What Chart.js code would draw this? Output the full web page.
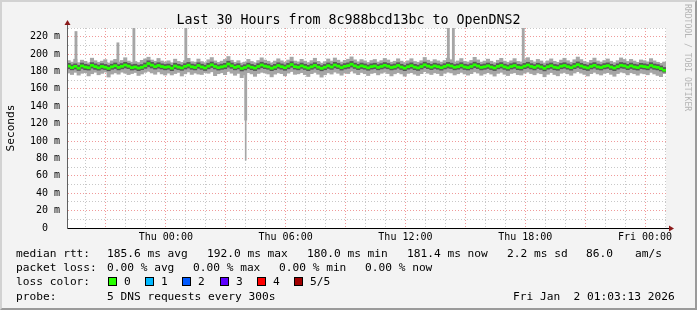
<!DOCTYPE html>
<html><head><meta charset="utf-8">
<script src="https://cdn.jsdelivr.net/npm/chart.js@4/dist/chart.umd.min.js"></script>
<style>
html,body{margin:0;padding:0;background:#f3f3f3;}
#wrap{position:relative;width:697px;height:310px;overflow:hidden;font-family:'DejaVu Sans Mono',monospace;color:#000;}
#frame{position:absolute;left:0;top:0;width:697px;height:310px;box-sizing:border-box;border:2px solid;border-color:#d2d2d2 #9a9a9a #9a9a9a #d2d2d2;pointer-events:none;}
canvas{position:absolute;left:0;top:0;}
.t{position:absolute;white-space:pre;font-size:11.2px;line-height:14px;}
#title{position:absolute;left:0;width:697px;top:11px;text-align:center;font-size:13.3px;line-height:17px;white-space:pre;}
#rrd{position:absolute;left:683px;top:4px;writing-mode:vertical-rl;font-size:8.1px;color:#b4b4b4;white-space:pre;line-height:10px;}
.box{position:absolute;width:7px;height:7px;border:1px solid #000;top:277px;}
</style></head><body>
<div id="wrap">
<canvas id="c" width="697" height="310"></canvas>
<div id="title">Last 30 Hours from 8c988bcd13bc to OpenDNS2</div>
<div id="rrd">RRDTOOL / TOBI OETIKER</div>
<div class="t" style="left:16px;top:247px">median rtt:</div>
<div class="t" style="left:107px;top:247px">185.6 ms avg</div>
<div class="t" style="left:207px;top:247px">192.0 ms max</div>
<div class="t" style="left:307px;top:247px">180.0 ms min</div>
<div class="t" style="left:407px;top:247px">181.4 ms now</div>
<div class="t" style="left:507px;top:247px">2.2 ms sd</div>
<div class="t" style="left:586px;top:247px">86.0</div>
<div class="t" style="left:635px;top:247px">am/s</div>
<div class="t" style="left:16px;top:261px">packet loss:</div>
<div class="t" style="left:107px;top:261px">0.00 % avg</div>
<div class="t" style="left:193px;top:261px">0.00 % max</div>
<div class="t" style="left:279px;top:261px">0.00 % min</div>
<div class="t" style="left:365px;top:261px">0.00 % now</div>
<div class="t" style="left:16px;top:275px">loss color:</div>
<div id="lossLegend"></div>
<div class="t" style="left:16px;top:290px">probe:</div>
<div class="t" style="left:107px;top:290px">5 DNS requests every 300s</div>
<div class="t" style="left:513px;top:290px">Fri Jan  2 01:03:13 2026</div>
<div id="frame"></div>
</div>
<script>
// ---- data ----
const startHour = -4.95;          // hours relative to Thu 00:00
const endHour = 25.05;
const binHours = 1/6;             // 10-minute bins
const tickHours = [0, 6, 12, 18, 24];
const tickLabels = ['Thu 00:00', 'Thu 06:00', 'Thu 12:00', 'Thu 18:00', 'Fri 00:00'];
const yMax = 230;

const median = [
186.2,184.5,185.9,183.8,186.4,185.1,184.3,187.0,185.6,184.2,
185.8,184.9,183.6,185.3,186.6,184.7,185.9,187.4,186.1,184.5,
185.2,183.9,184.8,186.5,189.1,187.3,185.6,186.9,185.7,184.8,
185.4,183.8,186.3,185.0,184.1,185.9,187.2,185.4,184.6,186.8,
185.2,184.0,186.1,187.7,185.8,184.4,185.3,186.2,188.6,186.5,
184.7,185.8,183.5,184.6,186.4,184.9,183.9,185.8,187.5,186.1,
185.3,183.7,185.0,186.8,185.5,184.3,186.1,188.0,185.6,184.8,
186.5,185.1,183.9,185.4,186.9,185.0,183.6,184.9,186.6,185.2,
187.4,186.1,184.5,185.9,186.7,188.3,186.4,185.0,186.5,185.5,
184.2,185.6,186.3,184.7,185.8,187.1,186.0,184.6,185.4,186.9,
185.1,183.8,185.5,186.7,185.0,184.1,185.7,187.6,186.1,185.0,
186.4,185.5,184.4,185.8,187.2,186.3,184.8,185.5,186.9,185.2,
184.5,185.8,187.6,186.2,184.7,185.4,186.5,185.1,184.0,185.9,
187.0,185.3,184.2,185.7,186.8,185.0,184.5,186.1,187.4,185.8,
184.7,186.3,185.2,183.6,185.5,186.6,184.9,184.3,186.0,186.9,
185.5,184.4,186.1,187.8,186.3,185.0,184.1,185.8,187.0,185.3,
184.6,185.9,186.7,185.1,183.9,185.6,187.1,186.4,185.0,186.5,
185.2,184.5,186.2,185.6,184.8,186.9,185.4,184.7,183.2,181.4];

const innerLow = [
183.1,181.9,182.8,181.2,183.5,182.0,181.6,183.9,182.4,181.5,
182.9,182.2,180.8,182.5,183.4,181.8,183.0,184.1,183.2,181.7,
182.3,181.0,182.1,183.6,185.4,184.0,182.7,183.8,182.9,181.9,
182.6,180.9,183.1,182.2,181.3,182.8,184.0,182.5,181.8,183.7,
182.4,181.2,183.0,184.5,182.9,181.6,182.4,183.1,185.0,183.6,
181.9,182.9,180.6,181.8,183.4,182.1,181.1,182.8,184.3,183.2,
182.5,180.9,182.1,183.7,182.6,181.4,183.0,184.8,182.7,181.9,
183.6,182.3,181.0,182.5,183.8,182.2,180.8,182.0,183.5,182.4,
184.2,183.2,181.6,182.9,183.6,185.1,183.5,182.1,183.4,182.6,
181.4,182.7,183.3,181.9,182.9,183.9,183.1,181.8,182.5,183.8,
182.3,180.9,182.6,183.6,182.1,181.2,182.8,184.4,183.2,182.1,
183.5,182.6,181.5,182.9,184.0,183.4,181.9,182.6,183.8,182.3,
181.7,182.9,184.4,183.3,181.8,182.5,183.4,182.2,181.1,183.0,
183.9,182.4,181.3,182.8,183.7,182.1,181.6,183.2,184.2,182.9,
181.8,183.4,182.3,180.7,182.6,183.5,182.0,181.4,183.1,183.8,
182.6,181.5,183.2,184.6,183.4,182.1,181.2,182.9,183.9,182.4,
181.7,183.0,183.6,182.2,181.0,182.7,184.0,183.5,182.1,183.4,
182.3,181.6,183.3,182.7,181.9,183.8,182.5,181.8,180.6,179.2];

const innerHigh = [
189.4,187.6,188.8,186.9,189.7,188.3,187.5,190.2,188.8,187.4,
189.0,188.1,186.9,188.4,189.8,187.9,189.1,190.6,189.3,187.8,
188.4,187.2,188.0,189.8,192.3,190.5,188.9,190.1,188.8,188.0,
188.6,187.1,189.5,188.2,187.3,189.0,190.4,188.5,187.8,190.0,
188.4,187.2,189.3,190.9,189.0,187.6,188.5,189.4,191.8,189.7,
187.9,189.0,186.7,187.8,189.6,188.1,187.1,189.0,190.7,189.3,
188.5,186.9,188.2,190.0,188.7,187.5,189.3,191.2,188.8,188.0,
189.7,188.3,187.1,188.6,190.1,188.2,186.8,188.1,189.8,188.4,
190.6,189.3,187.7,189.1,189.9,191.5,189.6,188.2,189.7,188.7,
187.4,188.8,189.5,187.9,189.0,190.3,189.2,187.8,188.6,190.1,
188.3,187.0,188.7,189.9,188.2,187.3,188.9,190.8,189.3,188.2,
189.6,188.7,187.6,189.0,190.4,189.5,188.0,188.7,190.1,188.4,
187.7,189.0,190.8,189.4,187.9,188.6,189.7,188.3,187.2,189.1,
190.2,188.5,187.4,188.9,190.0,188.2,187.7,189.3,190.6,189.0,
187.9,189.5,188.4,186.8,188.7,189.8,188.1,187.5,189.2,190.1,
188.7,187.6,189.3,191.0,189.5,188.2,187.3,189.0,190.2,188.5,
187.8,189.1,189.9,188.3,187.1,188.8,190.3,189.6,188.2,189.7,
188.4,187.7,189.4,188.8,188.0,190.1,188.6,187.9,186.4,184.6];

const minRtt = [
178.2,176.5,179.0,175.8,177.9,178.6,174.9,177.4,179.1,176.2,
177.8,179.3,173.6,177.0,178.4,176.9,179.2,178.0,176.4,177.6,
178.8,175.4,177.1,179.0,180.2,178.3,176.8,179.5,177.2,175.9,
178.1,176.0,177.6,178.9,174.8,177.3,179.4,176.6,178.2,177.0,
176.5,178.7,177.9,179.6,175.2,177.4,178.5,176.3,180.1,178.0,
175.6,177.8,172.9,176.1,178.6,177.2,174.4,177.7,179.0,178.3,
177.1,173.8,176.9,178.4,177.5,175.0,178.1,179.9,176.7,177.3,
178.6,176.4,174.2,177.5,178.9,176.8,173.5,176.2,178.4,177.0,
179.3,177.9,175.7,178.2,177.6,180.4,178.1,176.3,178.8,177.4,
175.3,177.7,178.5,176.1,177.9,179.1,177.6,174.9,177.3,178.7,
177.2,174.6,177.8,178.6,176.9,175.4,177.5,179.7,178.0,176.5,
178.4,177.6,175.1,177.9,179.2,178.3,176.0,177.4,178.9,177.1,
175.8,177.5,179.5,178.1,175.6,177.2,178.6,177.0,174.7,177.8,
179.0,176.8,175.3,177.7,178.5,176.4,175.9,178.0,179.3,177.6,
176.2,178.3,177.4,173.9,176.8,178.7,176.5,175.0,177.9,178.8,
177.3,175.6,178.2,179.8,178.1,176.6,174.8,177.5,179.0,177.2,
175.9,177.8,178.6,176.7,174.5,177.6,179.2,178.4,176.1,178.5,
177.4,175.7,178.0,177.3,176.2,178.9,177.1,175.4,174.0,177.6];

const maxRtt = [
192.5,190.8,194.1,190.2,193.0,191.7,189.9,195.3,192.4,190.6,
191.9,193.6,189.8,192.2,194.0,190.9,192.7,195.8,192.0,190.7,
191.5,190.3,192.8,194.5,196.4,193.2,191.8,195.0,192.1,190.9,
192.3,190.1,194.2,191.6,190.4,192.5,195.1,191.3,190.8,194.3,
191.4,190.2,193.5,196.0,192.2,190.5,191.9,193.8,197.2,192.9,
190.6,192.4,189.7,190.8,193.9,191.5,190.0,192.6,195.7,193.1,
191.8,189.9,192.0,194.6,192.3,190.7,193.2,196.5,192.0,191.1,
194.0,191.9,190.2,192.5,195.2,191.7,189.6,191.3,194.4,192.0,
195.5,193.0,190.9,192.8,194.1,196.8,193.4,191.2,193.7,192.2,
190.4,192.6,193.8,190.9,192.5,195.0,193.2,190.7,191.8,194.6,
191.9,190.3,192.3,194.7,191.5,190.6,192.4,196.1,193.0,191.4,
193.6,192.2,190.8,192.6,195.3,193.5,191.0,192.1,194.9,191.6,
190.9,192.7,196.3,193.3,190.8,192.0,194.2,191.8,190.1,192.9,
195.1,191.9,190.6,192.3,194.8,191.6,191.0,193.6,195.9,192.7,
191.0,193.9,192.1,189.8,192.2,194.5,191.7,190.5,193.1,195.2,
192.4,190.7,193.5,196.6,193.7,191.5,190.3,192.8,195.4,192.1,
190.9,192.6,194.4,191.8,190.2,192.5,195.6,193.8,191.6,193.9,
192.0,190.5,193.3,192.4,191.1,194.8,192.2,190.6,189.4,190.9];

// isolated outliers (hours relative to Thu 00:00)
const spikeHours = [-4.5, -2.4, -1.6, 1.0, 4.0, 14.15, 14.4, 17.9];
const spikeLow   = [186, 186, 186, 186, 124, 186, 186, 186];
const spikeHigh  = [226, 213, 240, 240, 180, 240, 240, 232];
const dipHours = [4.0];
const dipLow   = [78];
const dipHigh  = [125];

const lossColors = ['#26ff00', '#00b8ff', '#0059ff', '#5e00ff', '#ff0000', '#a10000'];
const lossLabels = ['0', '1', '2', '3', '4', '5/5'];

// ---- loss legend ----
const boxX = [108, 145, 182, 220, 257, 294];
const ll = document.getElementById('lossLegend');
lossLabels.forEach((lab, i) => {
  const b = document.createElement('div');
  b.className = 'box'; b.style.left = boxX[i] + 'px'; b.style.background = lossColors[i];
  ll.appendChild(b);
  const t = document.createElement('div');
  t.className = 't'; t.style.left = (boxX[i] + 16) + 'px'; t.style.top = '275px';
  t.textContent = lab; ll.appendChild(t);
});

// ---- build datasets ----
const times = median.map((_, i) => startHour + (i + 0.5) * binHours);
const outerData = times.map((t, i) => ({x: t, y: [minRtt[i], maxRtt[i]]}));
const innerData = times.map((t, i) => ({x: t, y: [innerLow[i], innerHigh[i]]}));
const medData = times.map((t, i) => ({x: t, y: [median[i] - 1.2, median[i] + 1.2]}));
const spikeData = spikeHours.map((t, i) => ({x: t, y: [spikeLow[i], spikeHigh[i]]}));
const dipData = dipHours.map((t, i) => ({x: t, y: [dipLow[i], dipHigh[i]]}));

const RED = '#f09a9a', GRAY = '#c8c8c8';
const MONO = "'DejaVu Sans Mono', monospace";
const barW = 600 / median.length + 0.05;

const bgPlugin = {
  id: 'plotbg',
  beforeDraw(chart) {
    const {ctx, chartArea: a} = chart;
    ctx.save(); ctx.fillStyle = '#ffffff';
    ctx.fillRect(a.left, a.top, a.right - a.left, a.bottom - a.top);
    ctx.restore();
  }
};
const arrowPlugin = {
  id: 'arrows',
  afterDraw(chart) {
    const {ctx, chartArea: a} = chart;
    ctx.save();
    ctx.lineWidth = 1;
    ctx.strokeStyle = '#606060';
    ctx.beginPath(); ctx.moveTo(a.left + 0.5, a.top); ctx.lineTo(a.left + 0.5, a.top - 4); ctx.stroke();
    ctx.strokeStyle = '#000';
    ctx.beginPath(); ctx.moveTo(a.right, a.bottom + 0.5); ctx.lineTo(a.right + 4, a.bottom + 0.5); ctx.stroke();
    ctx.fillStyle = '#8b1a1a';
    ctx.beginPath(); ctx.moveTo(a.left + 0.5, a.top - 8); ctx.lineTo(a.left - 2.5, a.top - 3); ctx.lineTo(a.left + 3.5, a.top - 3); ctx.closePath(); ctx.fill();
    ctx.beginPath(); ctx.moveTo(a.right + 8, a.bottom + 0.5); ctx.lineTo(a.right + 3, a.bottom - 2.5); ctx.lineTo(a.right + 3, a.bottom + 3.5); ctx.closePath(); ctx.fill();
    ctx.restore();
  }
};

new Chart(document.getElementById('c'), {
  type: 'bar',
  data: {
    datasets: [
      {data: medData, backgroundColor: lossColors[0], barThickness: barW, grouped: false, clip: 0, order: 0},
      {data: innerData, backgroundColor: '#585858', barThickness: barW, grouped: false, clip: 0, order: 1},
      {data: outerData, backgroundColor: '#a6a6a6', barThickness: barW, grouped: false, clip: 0, order: 2},
      {data: spikeData, backgroundColor: '#a6a6a6', barThickness: 2.2, grouped: false, clip: 0, order: 3},
      {data: dipData, backgroundColor: '#a6a6a6', barThickness: 1, grouped: false, clip: 0, order: 4}
    ]
  },
  options: {
    responsive: false,
    animation: false,
    devicePixelRatio: 1,
    events: [],
    layout: {padding: {left: 0, top: 28, right: 31, bottom: 52}},
    plugins: {legend: {display: false}, tooltip: {enabled: false}, title: {display: false}},
    scales: {
      x: {
        type: 'linear', min: startHour, max: endHour, offset: false,
        afterBuildTicks: (s) => { const t = []; for (let h = Math.ceil(startHour); h <= Math.floor(endHour); h++) t.push({value: h}); s.ticks = t; },
        afterFit: (s) => { s.height = 30; },
        grid: {offset: false, color: (c) => (c.tick && c.tick.value % 3 === 0) ? RED : GRAY, lineWidth: 1, drawTicks: false},
        border: {display: true, color: '#000', width: 1, dash: [1, 2], z: 1},
        ticks: {autoSkip: false, maxRotation: 0, minRotation: 0, padding: 3, color: '#000',
          font: {family: MONO, size: 10},
          callback: (v) => { const k = tickHours.indexOf(v); return k >= 0 ? tickLabels[k] : ''; }}
      },
      y: {
        type: 'linear', min: 0, max: yMax,
        afterBuildTicks: (s) => { const t = []; for (let v = 0; v <= yMax; v += 10) t.push({value: v}); s.ticks = t; },
        afterFit: (s) => { s.width = 67; },
        grid: {color: (c) => (c.tick && c.tick.value % 20 === 0) ? RED : GRAY, lineWidth: 1, drawTicks: false},
        border: {display: true, color: '#606060', width: 1, dash: [1, 2], z: 1},
        title: {display: true, text: 'Seconds', color: '#000', font: {family: MONO, size: 11.2}, padding: {top: 4, bottom: 0}},
        ticks: {autoSkip: false, padding: 7, color: '#000', font: {family: MONO, size: 10},
          callback: (v) => v === 0 ? '0  ' : (v % 20 === 0 ? v + ' m' : '')}
      }
    }
  },
  plugins: [bgPlugin, arrowPlugin]
});
</script>
</body></html>
